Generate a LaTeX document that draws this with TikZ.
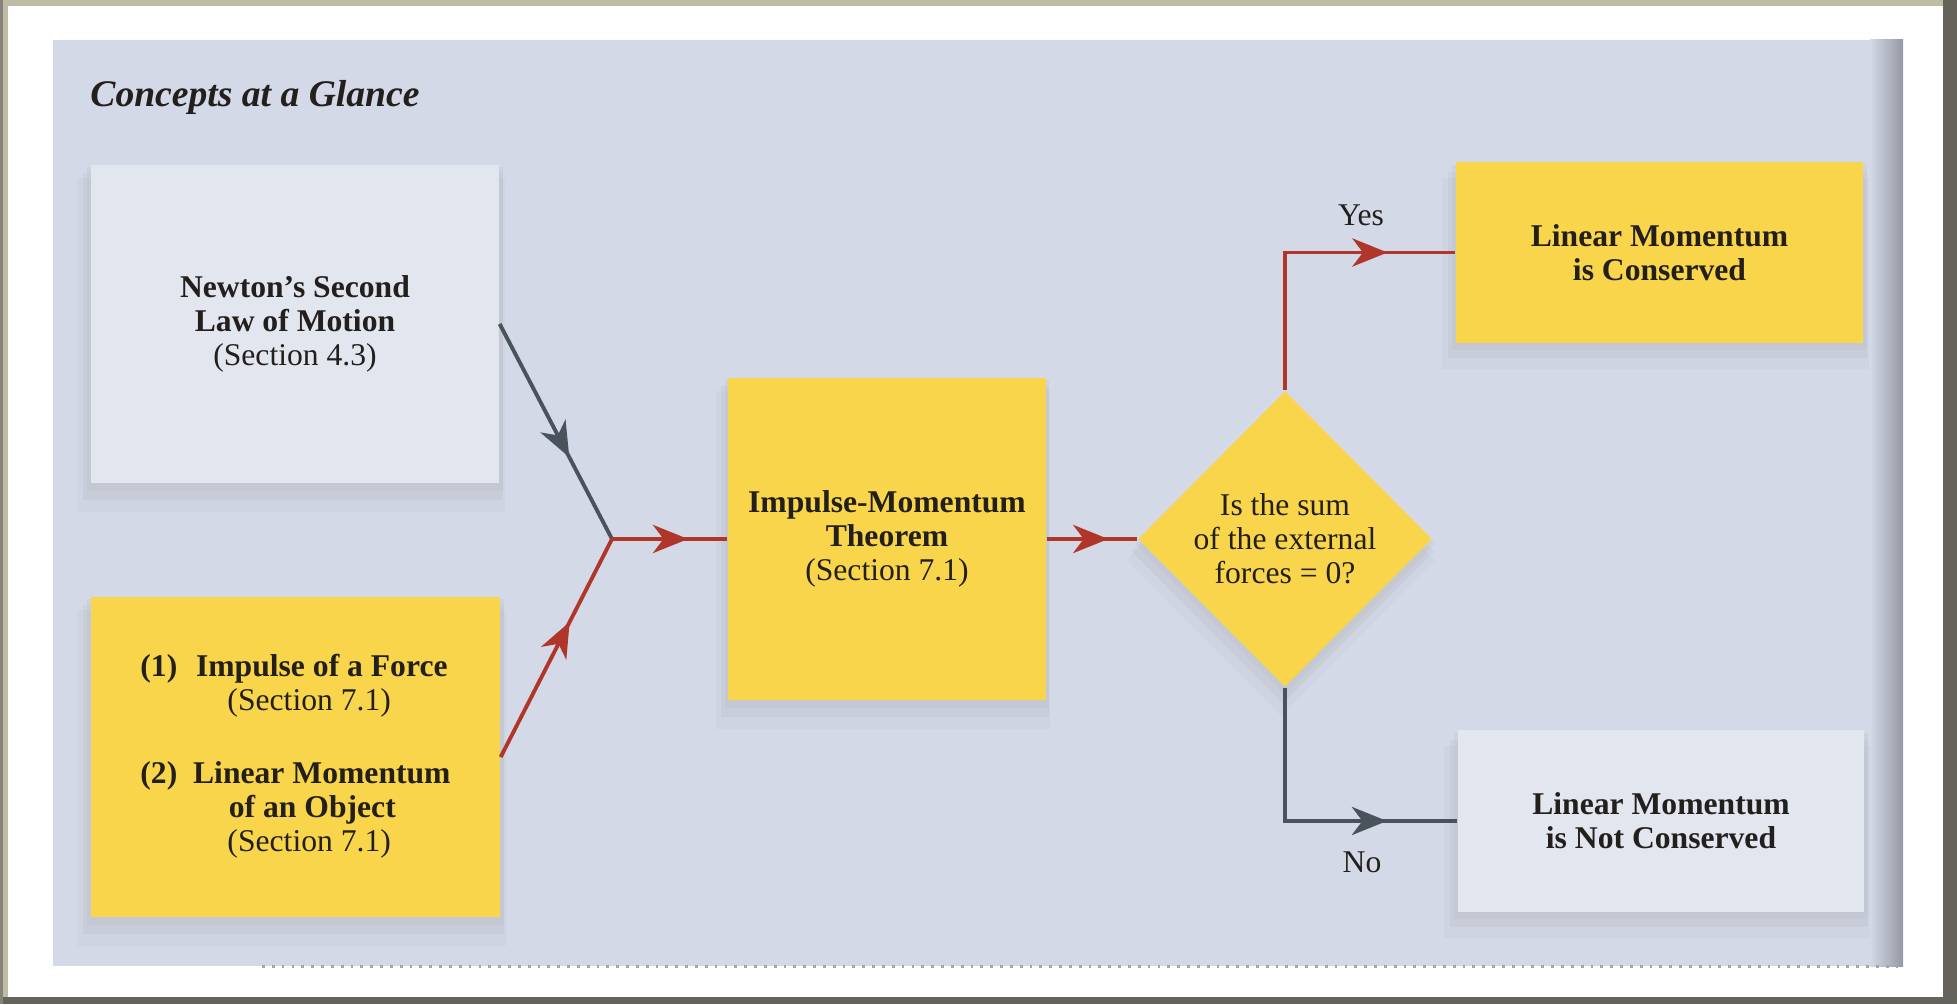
\documentclass[tikz,border=0pt]{standalone}
\usepackage{fontspec}
\setmainfont{Liberation Serif}
\usetikzlibrary{shapes.geometric,arrows.meta,decorations.markings,shadows}

\definecolor{panelblue}{HTML}{D3D9E7}
\definecolor{boxgray}{HTML}{E2E6EF}
\definecolor{boxyellow}{HTML}{F8D54A}
\definecolor{flowred}{HTML}{B0362A}
\definecolor{flowgray}{HTML}{4A525C}
\definecolor{inkdark}{HTML}{231F1C}
\definecolor{frameolive}{HTML}{BEBCA4}
\definecolor{framedark}{HTML}{66645A}

\newcommand{\boxfont}{\fontsize{9}{9.7}\selectfont}

\begin{document}
\begin{tikzpicture}[
  softshadow/.style={
    drop shadow={shadow xshift=0cm, shadow yshift=-0.05cm, opacity=0.07, shadow scale=1.02},
    drop shadow={shadow xshift=-0.02cm, shadow yshift=-0.12cm, opacity=0.07, shadow scale=1.03},
    drop shadow={shadow xshift=-0.04cm, shadow yshift=-0.2cm, opacity=0.05, shadow scale=1.05}},
  conceptbox/.style={rectangle, inner sep=0pt, align=center, font=\boxfont, text=inkdark, softshadow},
  graybox/.style={conceptbox, fill=boxgray},
  yellowbox/.style={conceptbox, fill=boxyellow},
  decision/.style={diamond, aspect=1, inner sep=0pt, fill=boxyellow, align=center,
    font=\boxfont, text=inkdark, minimum width=2.94cm, minimum height=2.96cm, softshadow},
  flowline/.style={line width=1.1pt},
  redline/.style={flowline, color=flowred},
  grayline/.style={flowline, color=flowgray},
  midarrow/.style={postaction={decorate, decoration={markings,
    mark=at position #1 with {\arrow{Stealth[length=10pt, width=8pt, inset=3pt]}}}}},
  caselabel/.style={font=\boxfont, text=inkdark}
]
\useasboundingbox (0,0) rectangle (19.57,10.04);

% page and background
\fill[frameolive] (0,0) rectangle (19.57,10.04);
\fill[framedark] (0,0) rectangle (19.57,0.07);
\fill[framedark] (19.43,0) rectangle (19.57,10.04);
\fill[framedark!80] (0,0) rectangle (0.03,10.04);
\fill[white] (0.08,0.07) rectangle (19.43,9.98);
\fill[panelblue] (0.53,0.38) rectangle (19.03,9.64);
\shade[left color=panelblue, right color=black!30!panelblue] (18.70,0.38) rectangle (19.03,9.64);
\draw[gray!70, dotted, line width=0.8pt] (2.62,0.375) -- (19.03,0.375);

\node[anchor=west, font=\fontsize{10.7}{12}\selectfont\bfseries\itshape, text=inkdark] (title) at (0.78,9.07) {Concepts at a Glance};

% concept boxes
\node[graybox, minimum width=4.08cm, minimum height=3.18cm] (newton) at (2.95,6.80)
  {\textbf{Newton's Second}\\\textbf{Law of Motion}\\(Section 4.3)};
\node[yellowbox, minimum width=4.09cm, minimum height=3.20cm] (impulse) at (2.955,2.47)
  {\begin{tabular}{@{}r@{\hspace{0.5em}}c@{}}
   \textbf{(1)} & \textbf{Impulse of a Force}\\
                & \hspace{-0.8em}(Section 7.1)\\[11pt]
   \textbf{(2)} & \textbf{Linear Momentum}\\
                & \hspace{-0.6em}\textbf{of an Object}\\
                & \hspace{-0.8em}(Section 7.1)
   \end{tabular}};
\node[yellowbox, minimum width=3.18cm, minimum height=3.21cm] (theorem) at (8.87,4.65)
  {\textbf{Impulse-Momentum}\\\textbf{Theorem}\\(Section 7.1)};
\node[decision] (test) at (12.85,4.65) {Is the sum\\of the external\\forces = 0?};
\node[yellowbox, minimum width=4.07cm, minimum height=1.81cm] (yes) at (16.595,7.515)
  {\textbf{Linear Momentum}\\\textbf{is Conserved}};
\node[graybox, minimum width=4.06cm, minimum height=1.82cm] (no) at (16.61,1.83)
  {\textbf{Linear Momentum}\\\textbf{is Not Conserved}};
\coordinate (junction) at (6.12,4.65);

% connectors
\draw[grayline, midarrow=0.62] (newton.east) -- (junction);
\draw[redline, midarrow=0.62] (impulse.east) -- (junction);
\draw[redline, midarrow=0.66] (junction) -- (theorem.west);
\draw[redline, midarrow=0.68] (theorem.east) -- (test.west);
\draw[redline, midarrow=0.78] (test.north) |- (yes.west);
\draw[grayline, midarrow=0.77] (test.south) |- (no.west);
\node[caselabel] (yeslabel) at (13.61,7.89) {Yes};
\node[caselabel] (nolabel) at (13.62,1.42) {No};
\end{tikzpicture}
\end{document}
